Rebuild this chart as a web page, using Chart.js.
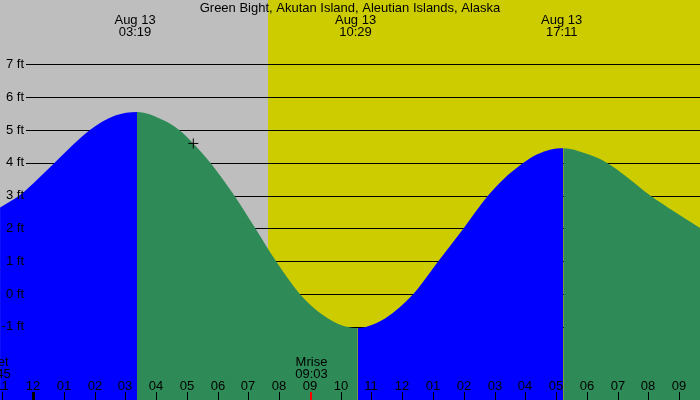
<!doctype html>
<html lang="en">
  <head>
    <meta charset="UTF-8" />
    <title>Green Bight tide chart</title>
    <style>
      html, body { margin: 0; padding: 0; overflow: hidden; background: #bebebe; }
      #wrap { width: 700px; height: 400px; }
    </style>
  </head>
  <body>
    <div id="wrap"><canvas id="tide-chart"></canvas></div>
    <script src="https://cdn.jsdelivr.net/npm/chart.js"></script>
    <script>
      // Tide curve (hours from midnight Aug 13, feet)
      const tideHours = [-1.07, -0.42, 0.72, 1.85, 2.67, 3.38, 4.24, 4.78, 5.21, 5.75, 6.53, 7.22, 7.89, 8.67, 9.33, 10.07, 10.55,
                         10.86, 11.44, 12.36, 13.17, 13.99, 14.79, 15.29, 15.94, 16.37, 16.80, 17.24,
                         17.94, 18.62, 19.34, 20.05, 20.86, 21.68];
      const tideFeet  = [2.64, 3.02, 4.02, 5.00, 5.44, 5.55, 5.30, 4.98, 4.59, 4.02, 3.02, 2.01, 1.01, 0.00, -0.58, -0.97, -1.04,
                         -0.99, -0.75, 0.00, 1.00, 2.00, 3.00, 3.50, 4.00, 4.25, 4.40, 4.44,
                         4.29, 4.02, 3.54, 3.01, 2.50, 2.01];

      // high / low tide labels
      const extremeHours = [3.317, 10.483, 17.183];
      const extremeDates = ['Aug 13', 'Aug 13', 'Aug 13'];
      const extremeTimes = ['03:19', '10:29', '17:11'];

      // bottom hour axis
      const hourTicks  = [-1, 0, 1, 2, 3, 4, 5, 6, 7, 8, 9, 10, 11, 12, 13, 14, 15, 16, 17, 18, 19, 20, 21];
      const hourLabels = ['11', '12', '01', '02', '03', '04', '05', '06', '07', '08', '09', '10',
                          '11', '12', '01', '02', '03', '04', '05', '06', '07', '08', '09'];

      // feet grid
      const feetTicks  = [7, 6, 5, 4, 3, 2, 1, 0, -1];
      const feetLabels = ['7 ft', '6 ft', '5 ft', '4 ft', '3 ft', '2 ft', '1 ft', '0 ft', '-1 ft'];

      // sun and moon
      const sunriseHour = 7.64;
      const moonEvents = [
        { name: 'Mset', time: '22:45', hour: -1.25, tick: false },
        { name: 'Mrise', time: '09:03', hour: 9.05, tick: true }
      ];
      const markerPoint = [{ x: 5.21, y: 4.59 }];

      const title = 'Green Bight, Akutan Island, Aleutian Islands, Alaska';
      const FONT = '13px "Liberation Sans", Arial, sans-serif';

      const tidePoints = tideHours.map((h, i) => ({ x: h, y: tideFeet[i] }));

      const backdrop = {
        id: 'backdrop',
        beforeDatasetsDraw(chart) {
          const { ctx, chartArea: a, scales: { x, y } } = chart;
          const sx = Math.round(x.getPixelForValue(sunriseHour));
          ctx.save();
          ctx.fillStyle = '#bebebe';
          ctx.fillRect(a.left, a.top, sx - a.left, a.bottom - a.top);
          ctx.fillStyle = '#cccc00';
          ctx.fillRect(sx, a.top, a.right - sx, a.bottom - a.top);
          // feet lines, behind the water
          ctx.strokeStyle = '#000';
          ctx.lineWidth = 1;
          feetTicks.forEach(v => {
            const py = Math.round(y.getPixelForValue(v)) + 0.5;
            ctx.beginPath();
            ctx.moveTo(26, py);
            ctx.lineTo(a.right, py);
            ctx.stroke();
          });
          ctx.restore();
        },
        afterDatasetsDraw(chart) {
          const { ctx, scales: { x, y } } = chart;
          ctx.save();
          ctx.font = FONT;
          ctx.fillStyle = '#000';
          ctx.textBaseline = 'middle';

          ctx.textAlign = 'center';
          ctx.fillText(title, 350, 8);

          extremeHours.forEach((h, i) => {
            const px = x.getPixelForValue(h);
            ctx.fillText(extremeDates[i], px, 20);
            ctx.fillText(extremeTimes[i], px, 32);
          });

          ctx.textAlign = 'right';
          feetTicks.forEach((v, i) => {
            ctx.fillText(feetLabels[i], 24, y.getPixelForValue(v));
          });

          ctx.textAlign = 'center';
          hourTicks.forEach((h, i) => {
            const px = Math.round(x.getPixelForValue(h));
            ctx.fillText(hourLabels[i], px, 386);
            if (h === 0) ctx.fillRect(px - 1, 392, 3, 8);
            else ctx.fillRect(px, 392, 1, 8);
          });

          moonEvents.forEach(m => {
            const px = x.getPixelForValue(m.hour);
            ctx.fillStyle = '#000';
            ctx.fillText(m.name, px, 362);
            ctx.fillText(m.time, px, 374);
            if (m.tick) {
              ctx.fillStyle = '#ff0000';
              ctx.fillRect(Math.round(px) - 1, 392, 2, 8);
            }
          });
          ctx.restore();
        }
      };

      new Chart(document.getElementById('tide-chart'), {
        type: 'line',
        data: {
          datasets: [{
            data: tidePoints,
            order: 1,
            fill: 'start',
            borderWidth: 0,
            pointRadius: 0,
            cubicInterpolationMode: 'monotone',
            backgroundColor: '#2e8b57',
            segment: {
              backgroundColor: c => c.p1.parsed.y > c.p0.parsed.y ? '#0000ff' : '#2e8b57'
            }
          }, {
            type: 'scatter',
            data: markerPoint,
            order: 0,
            pointStyle: 'cross',
            pointRadius: 5,
            borderColor: '#000',
            borderWidth: 1
          }]
        },
        options: {
          responsive: true,
          maintainAspectRatio: false,
          animation: false,
          layout: { padding: 0, autoPadding: false },
          plugins: { legend: { display: false }, tooltip: { enabled: false } },
          scales: {
            x: { type: 'linear', display: false, min: -33 / 30.77, max: 667 / 30.77 },
            y: { display: false, min: -3.232, max: 8.963 }
          }
        },
        plugins: [backdrop]
      });
    </script>
  </body>
</html>
